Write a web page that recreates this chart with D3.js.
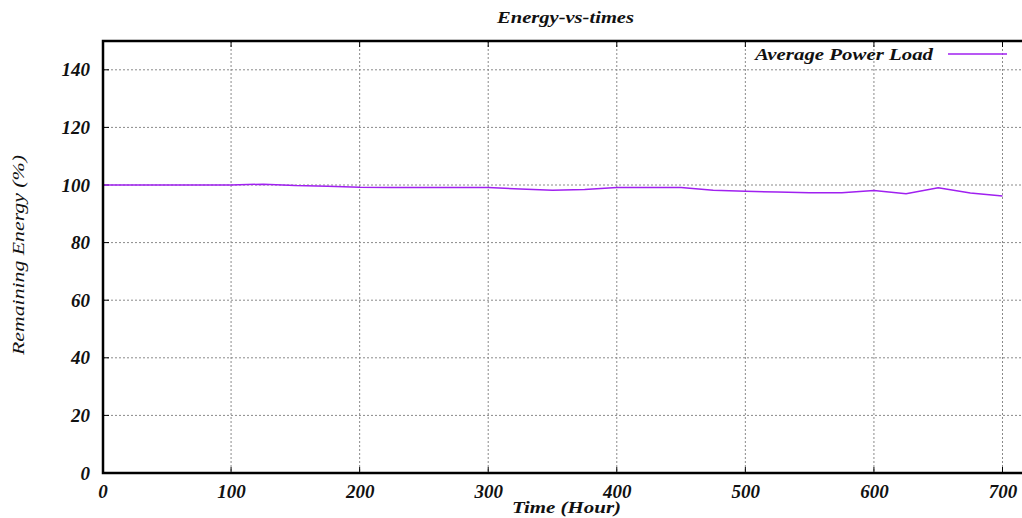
<!DOCTYPE html>
<html><head><meta charset="utf-8">
<script src="https://cdn.jsdelivr.net/npm/d3@7"></script>
<style>body{margin:0;background:#fff}svg{display:block}</style>
</head><body>
<svg id="c" width="1022" height="518"></svg>
<script>
const hours  = [0,25,50,75,100,125,150,175,200,225,250,275,300,325,350,375,400,425,450,475,500,525,550,575,600,625,650,675,700];
const energy = [100,100,100,100,100,100.3,99.8,99.6,99.2,99.1,99.1,99.1,99.1,98.6,98.2,98.4,99.1,99.1,99.1,98.2,97.8,97.6,97.3,97.3,98.1,97.0,99.0,97.2,96.2];
const xTicks = [0,100,200,300,400,500,600,700];
const yTicks = [0,20,40,60,80,100,120,140];
const seriesName = "Average Power Load";

const svg = d3.select("#c");
const L = 103, T = 41, B = 473;
const x = d3.scaleLinear().domain([0,720]).range([102.5, 102.5 + 720*900/700]);
const y = d3.scaleLinear().domain([0,150]).range([B, T]);
const R = x(720);
const serif = "'Liberation Serif','Times New Roman',serif";

// grid
const g = svg.append("g");
g.selectAll(".gx").data(xTicks.filter(d=>d>0)).join("line")
  .attr("x1",d=>x(d)).attr("x2",d=>x(d)).attr("y1",T).attr("y2",B)
  .attr("stroke","#8a8a8a").attr("stroke-width",1).attr("stroke-dasharray","2,2");
g.selectAll(".gy").data(yTicks.filter(d=>d>0)).join("line")
  .attr("x1",L).attr("x2",R).attr("y1",d=>y(d)).attr("y2",d=>y(d))
  .attr("stroke","#8a8a8a").attr("stroke-width",1).attr("stroke-dasharray","2,2");

// axes (tick labels)
const xAxis = d3.axisBottom(x).tickValues(xTicks).tickSize(0).tickPadding(12).tickFormat(d3.format("d"));
const ax = svg.append("g").attr("transform",`translate(0,${B})`).call(xAxis);
ax.select(".domain").remove();
ax.selectAll("text").attr("font-family",serif).attr("font-weight","bold").attr("font-style","italic")
  .attr("font-size",19).attr("fill","#111");
const yAxis = d3.axisLeft(y).tickValues(yTicks).tickSize(0).tickPadding(13).tickFormat(d3.format("d"));
const ay = svg.append("g").attr("transform",`translate(${L},0)`).call(yAxis);
ay.select(".domain").remove();
ay.selectAll("text").attr("font-family",serif).attr("font-weight","bold").attr("font-style","italic")
  .attr("font-size",19).attr("fill","#111");

// inner ticks
svg.append("g").selectAll("line").data(xTicks.filter(d=>d>0)).join("line")
  .attr("x1",d=>x(d)).attr("x2",d=>x(d)).attr("y1",T).attr("y2",T+6).attr("stroke","#000").attr("stroke-width",1);
svg.append("g").selectAll("line").data(xTicks.filter(d=>d>0)).join("line")
  .attr("x1",d=>x(d)).attr("x2",d=>x(d)).attr("y1",B).attr("y2",B-6).attr("stroke","#000").attr("stroke-width",1);
svg.append("g").selectAll("line").data(yTicks.filter(d=>d>0)).join("line")
  .attr("x1",L).attr("x2",L+6).attr("y1",d=>y(d)).attr("y2",d=>y(d)).attr("stroke","#000").attr("stroke-width",1);

// data line
const line = d3.line().x((d,i)=>x(hours[i])).y(d=>y(d));
svg.append("path").datum(energy).attr("d",line).attr("fill","none")
  .attr("stroke","#a020f0").attr("stroke-width",1.5);

// border
svg.append("rect").attr("x",L).attr("y",T).attr("width",R-L+10).attr("height",B-T)
  .attr("fill","none").attr("stroke","#000").attr("stroke-width",2.5);

// legend
svg.append("text").attr("x",755).attr("y",60)
  .attr("font-family",serif).attr("font-weight","bold").attr("font-style","italic").attr("font-size",17)
  .attr("textLength",178).attr("lengthAdjust","spacingAndGlyphs")
  .attr("fill","#111").text(seriesName);
svg.append("line").attr("x1",948).attr("x2",1007).attr("y1",54).attr("y2",54)
  .attr("stroke","#a020f0").attr("stroke-width",1.5);

// title & labels
svg.append("text").attr("x",497).attr("y",23)
  .attr("font-family",serif).attr("font-style","italic").attr("font-weight","bold").attr("font-size",16)
  .attr("textLength",137).attr("lengthAdjust","spacingAndGlyphs")
  .attr("fill","#111").text("Energy-vs-times");
svg.append("text").attr("x",512).attr("y",513)
  .attr("font-family",serif).attr("font-style","italic").attr("font-weight","bold").attr("font-size",17)
  .attr("textLength",109).attr("lengthAdjust","spacingAndGlyphs")
  .attr("fill","#111").text("Time (Hour)");
svg.append("text").attr("transform","translate(24,355) rotate(-90)")
  .attr("font-family",serif).attr("font-style","italic").attr("font-size",17)
  .attr("textLength",200).attr("lengthAdjust","spacingAndGlyphs")
  .attr("fill","#111").text("Remaining Energy (%)");
</script>
</body></html>
